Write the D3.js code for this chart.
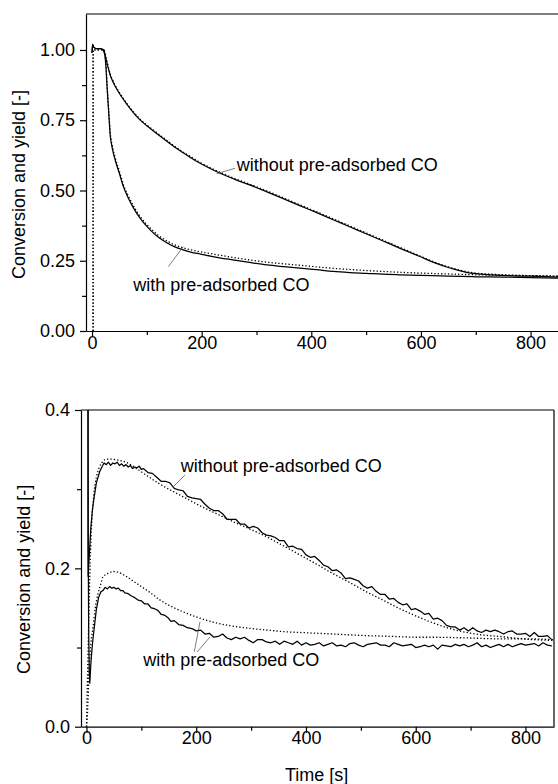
<!DOCTYPE html>
<html><head><meta charset="utf-8">
<script src="https://cdn.jsdelivr.net/npm/d3@7"></script>
<style>
body{margin:0;background:#fff}
svg{display:block}
text{font-family:'Liberation Sans',Arial,Helvetica,sans-serif;fill:#000}
</style>
</head><body>
<svg id="c" width="558" height="784"></svg>
<script>
// ---------------- data ----------------
const xTicks = [0, 200, 400, 600, 800];
const xMinor = [100, 300, 500, 700];
const topYTicks = [0, 0.25, 0.5, 0.75, 1.0];
const topYMinor = [0.125, 0.375, 0.625, 0.875];
const botYTicks = [0, 0.2, 0.4];
const botYMinor = [0.1, 0.3];
const yTitle = "Conversion and yield [-]";
const xTitle = "Time [s]";
const labelWithout = "without pre-adsorbed CO";
const labelWith = "with pre-adsorbed CO";

// top panel: measured (solid) and model (dotted) [time s, value]
const topWithoutMeas = [[0,0.99],[1,1.02],[3,1.01],[8,1.005],[15,1.005],[20,1.0],[24,0.98],[29,0.94],[33,0.912],[39,0.883],[50,0.845],[63,0.808],[75,0.778],[87,0.752],[100,0.730],[124,0.694],[140,0.670],[160,0.642],[180,0.617],[197,0.597],[220,0.574],[240,0.556],[264,0.537],[290,0.518],[318,0.496],[350,0.470],[379,0.446],[410,0.421],[440,0.396],[470,0.371],[501,0.345],[530,0.321],[561,0.295],[598,0.265],[622,0.245],[650,0.226],[670,0.215],[683,0.209],[700,0.204],[730,0.2],[760,0.197],[800,0.195],[850,0.192]];
const topWithoutModel = [[2,0],[2.01,1.0],[21,1.0],[24,0.985],[29,0.945],[33,0.915],[39,0.887],[50,0.848],[63,0.811],[75,0.781],[87,0.755],[100,0.733],[124,0.697],[140,0.673],[160,0.645],[180,0.620],[197,0.600],[220,0.577],[240,0.559],[264,0.540],[290,0.521],[318,0.499],[350,0.473],[379,0.449],[410,0.424],[440,0.399],[470,0.374],[501,0.348],[530,0.324],[561,0.298],[598,0.267],[622,0.247],[650,0.228],[670,0.217],[683,0.211],[700,0.206],[730,0.202],[760,0.199],[800,0.197],[850,0.195]];
const topWithMeas = [[0,0.99],[1,1.02],[3,1.01],[8,1.005],[15,1.005],[22,1.0],[25,0.95],[28,0.85],[31,0.76],[33,0.70],[37,0.65],[42,0.61],[50,0.56],[57,0.515],[65,0.478],[75,0.44],[90,0.395],[106,0.36],[120,0.335],[137,0.313],[150,0.3],[166,0.289],[180,0.281],[197,0.274],[220,0.265],[257,0.253],[290,0.243],[319,0.235],[350,0.229],[379,0.224],[410,0.218],[440,0.212],[470,0.208],[501,0.205],[530,0.202],[561,0.2],[600,0.198],[650,0.195],[700,0.193],[750,0.192],[800,0.19],[850,0.188]];
const topWithModel = [[2,0],[2.01,1.0],[22,1.0],[25,0.955],[28,0.86],[31,0.77],[33,0.71],[37,0.66],[42,0.618],[50,0.568],[57,0.522],[65,0.486],[75,0.447],[90,0.402],[106,0.367],[120,0.342],[137,0.32],[150,0.307],[166,0.296],[180,0.289],[197,0.282],[220,0.274],[257,0.262],[290,0.252],[319,0.245],[350,0.239],[379,0.234],[410,0.228],[440,0.223],[470,0.219],[501,0.215],[530,0.212],[561,0.209],[600,0.206],[650,0.203],[700,0.2],[750,0.198],[800,0.197],[850,0.195]];

// bottom panel
const botWithoutMeas = [[2.7,0.5],[3,0.19],[5,0.215],[8,0.252],[11,0.275],[14,0.29],[18,0.308],[24,0.322],[28,0.328],[32,0.333],[36,0.331],[40,0.334],[44,0.330],[48,0.333],[52,0.332],[56,0.334],[60,0.330],[64,0.332],[68,0.329],[72,0.331],[76,0.328],[80,0.330],[84,0.326],[88,0.328],[92,0.327],[96,0.329],[100,0.325],[104,0.326],[112,0.321],[120,0.320],[128,0.315],[136,0.310],[144,0.310],[152,0.308],[160,0.301],[168,0.299],[176,0.298],[184,0.291],[192,0.289],[200,0.288],[208,0.287],[216,0.281],[224,0.276],[232,0.273],[240,0.273],[248,0.269],[256,0.262],[264,0.262],[272,0.262],[280,0.256],[288,0.256],[296,0.251],[304,0.253],[312,0.251],[320,0.245],[328,0.242],[336,0.241],[344,0.239],[352,0.235],[360,0.235],[368,0.227],[376,0.228],[384,0.225],[392,0.224],[400,0.217],[408,0.214],[416,0.215],[424,0.210],[432,0.204],[440,0.202],[448,0.197],[456,0.198],[464,0.194],[472,0.187],[480,0.188],[488,0.186],[496,0.184],[504,0.178],[512,0.175],[520,0.177],[528,0.171],[536,0.167],[544,0.167],[552,0.161],[560,0.162],[568,0.157],[576,0.154],[584,0.155],[592,0.148],[600,0.149],[608,0.146],[616,0.142],[624,0.143],[632,0.136],[640,0.137],[648,0.134],[656,0.128],[664,0.126],[672,0.126],[680,0.122],[688,0.125],[696,0.121],[704,0.125],[712,0.121],[720,0.119],[728,0.122],[736,0.120],[744,0.122],[752,0.120],[760,0.117],[768,0.120],[776,0.121],[784,0.117],[792,0.117],[800,0.118],[808,0.114],[816,0.119],[824,0.114],[832,0.114],[840,0.115],[848,0.110]];
const botWithoutModel = [[0,0],[3,0.1],[6,0.19],[9,0.25],[13,0.29],[18,0.315],[23,0.327],[30,0.335],[36,0.338],[45,0.338],[55,0.337],[72,0.334],[87,0.328],[104,0.32],[130,0.308],[158,0.297],[180,0.289],[207,0.279],[240,0.268],[267,0.259],[300,0.249],[328,0.24],[360,0.228],[389,0.217],[420,0.205],[450,0.193],[480,0.182],[511,0.17],[540,0.16],[571,0.149],[600,0.14],[632,0.131],[662,0.124],[693,0.119],[720,0.116],[753,0.114],[780,0.112],[814,0.11],[850,0.109]];
const botWithMeas = [[2.7,0.5],[3,0.25],[4,0.12],[5,0.07],[6,0.055],[7,0.068],[8,0.08],[10,0.098],[12,0.112],[15,0.13],[18,0.148],[22,0.163],[26,0.170],[30,0.172],[34,0.176],[38,0.174],[42,0.177],[46,0.175],[50,0.176],[54,0.174],[58,0.175],[62,0.172],[66,0.172],[70,0.169],[76,0.168],[82,0.165],[88,0.163],[94,0.160],[100,0.159],[106,0.155],[112,0.155],[118,0.150],[124,0.149],[130,0.147],[136,0.142],[142,0.141],[148,0.138],[154,0.133],[160,0.134],[168,0.129],[176,0.128],[184,0.125],[192,0.124],[200,0.121],[208,0.122],[216,0.117],[224,0.118],[232,0.113],[240,0.114],[248,0.117],[256,0.112],[264,0.110],[272,0.113],[280,0.111],[288,0.113],[296,0.109],[304,0.106],[312,0.110],[320,0.110],[328,0.107],[336,0.106],[344,0.108],[352,0.104],[360,0.108],[368,0.106],[376,0.104],[384,0.108],[392,0.103],[400,0.106],[408,0.103],[416,0.104],[424,0.106],[432,0.102],[440,0.104],[448,0.106],[456,0.102],[464,0.103],[472,0.101],[480,0.105],[488,0.106],[496,0.103],[504,0.101],[512,0.104],[520,0.105],[528,0.106],[536,0.103],[544,0.103],[552,0.101],[560,0.106],[568,0.104],[576,0.102],[584,0.103],[592,0.104],[600,0.100],[608,0.101],[616,0.103],[624,0.101],[632,0.103],[640,0.098],[648,0.103],[656,0.102],[664,0.101],[672,0.104],[680,0.102],[688,0.104],[696,0.101],[704,0.103],[712,0.106],[720,0.101],[728,0.103],[736,0.100],[744,0.102],[752,0.104],[760,0.101],[768,0.104],[776,0.101],[784,0.103],[792,0.105],[800,0.103],[808,0.104],[816,0.105],[824,0.102],[832,0.106],[840,0.103],[848,0.102]];
const botWithModel = [[0,0],[2,0.02],[5,0.076],[8,0.105],[12,0.126],[16,0.15],[21,0.168],[26,0.18],[30,0.189],[40,0.194],[49,0.196],[58,0.195],[72,0.19],[87,0.183],[100,0.177],[115,0.17],[134,0.16],[146,0.155],[160,0.15],[180,0.144],[207,0.137],[237,0.131],[267,0.127],[300,0.124],[330,0.122],[360,0.12],[389,0.119],[420,0.118],[450,0.117],[480,0.116],[511,0.115],[560,0.114],[600,0.113],[632,0.113],[700,0.112],[750,0.111],[800,0.111],[850,0.11]];

// annotations (data units): label anchor and leader lines
const topNotes = [
  {text: labelWithout, at: [263.9, 0.569], leaders: [[[260.9, 0.579], [227.4, 0.560]]]},
  {text: labelWith, at: [75.3, 0.144], leaders: [[[139.1, 0.229], [166.5, 0.300]]]}
];
const botNotes = [
  {text: labelWithout, at: [171.7, 0.3217], leaders: [[[179.5, 0.3179], [158.2, 0.3031]]]},
  {text: labelWith, at: [103.5, 0.0767], leaders: [[[196.5, 0.0947], [206.9, 0.1326]], [[201.4, 0.0943], [225.1, 0.1133]]]}
];

// ---------------- drawing ----------------
const svg = d3.select("#c");
svg.append("rect").attr("width", 558).attr("height", 784).attr("fill", "#fff");

function panel(cfg) {
  const x = d3.scaleLinear().domain(cfg.xDomain).range([cfg.left, cfg.right]);
  const y = d3.scaleLinear().domain(cfg.yDomain).range([cfg.bottom, cfg.top]);
  const g = svg.append("g");
  const clipId = "clip" + cfg.id;
  svg.append("clipPath").attr("id", clipId).append("rect")
    .attr("x", cfg.left).attr("y", cfg.top)
    .attr("width", cfg.right - cfg.left).attr("height", cfg.bottom - cfg.top);

  // frame
  const frame = g.append("g").attr("stroke", "#000").attr("stroke-width", 1.2).attr("fill", "none");
  frame.append("line").attr("x1", cfg.left).attr("x2", cfg.right).attr("y1", cfg.top).attr("y2", cfg.top);
  if (cfg.rightBorder) frame.append("line").attr("x1", cfg.right).attr("x2", cfg.right).attr("y1", cfg.top).attr("y2", cfg.bottom);

  // axes
  const yAx = g.append("g").attr("transform", `translate(${cfg.left},0)`)
    .call(d3.axisLeft(y).tickValues(cfg.yTicks).tickSize(6).tickSizeOuter(0).tickPadding(5).tickFormat(cfg.yFmt));
  const yMin = g.append("g").attr("transform", `translate(${cfg.left},0)`)
    .call(d3.axisLeft(y).tickValues(cfg.yMinor).tickSize(4).tickSizeOuter(0).tickFormat(""));
  const xAx = g.append("g").attr("transform", `translate(0,${cfg.bottom})`)
    .call(d3.axisBottom(x).tickValues(xTicks).tickSize(6).tickSizeOuter(0).tickPadding(-1).tickFormat(d3.format("d")));
  const xMin = g.append("g").attr("transform", `translate(0,${cfg.bottom})`)
    .call(d3.axisBottom(x).tickValues(xMinor).tickSize(4).tickSizeOuter(0).tickFormat(""));
  [yAx, yMin, xAx, xMin].forEach(a => {
    a.selectAll("path").attr("stroke", "#000").attr("stroke-width", 1.2);
    a.selectAll("line").attr("stroke", "#000").attr("stroke-width", 1.2);
    a.selectAll("text").attr("font-size", 18).attr("font-family", "'Liberation Sans',Arial,sans-serif").attr("fill", "#000");
  });
  yMin.select(".domain").remove();
  xMin.select(".domain").remove();

  // y title
  g.append("text").attr("transform", `translate(${cfg.yTitleX},${(cfg.top + cfg.bottom) / 2 + cfg.yTitleDy}) rotate(-90)`)
    .attr("text-anchor", "middle").attr("font-size", 18).text(yTitle);

  // series
  const plot = g.append("g").attr("clip-path", `url(#${clipId})`);
  cfg.series.forEach(s => {
    const line = d3.line().x(d => x(d[0])).y(d => y(d[1])).curve(s.curve || d3.curveLinear);
    plot.append("path").datum(s.data).attr("d", line).attr("fill", "none")
      .attr("stroke", "#000").attr("stroke-width", s.dotted ? 1.3 : 1.25)
      .attr("stroke-dasharray", s.dotted ? "1.3,2.1" : null)
      .attr("stroke-linejoin", "round");
  });

  // annotations
  cfg.notes.forEach(n => {
    n.leaders.forEach(l => {
      g.append("line").attr("x1", x(l[0][0])).attr("y1", y(l[0][1]))
        .attr("x2", x(l[1][0])).attr("y2", y(l[1][1]))
        .attr("stroke", "#444").attr("stroke-width", 0.7);
    });
    g.append("text").attr("x", x(n.at[0])).attr("y", y(n.at[1])).attr("font-size", 18).text(n.text);
  });
  return {x, y};
}

panel({
  id: "top", left: 86, right: 558, top: 14, bottom: 331,
  xDomain: [-11, 850], yDomain: [0, 1.128],
  yTicks: topYTicks, yMinor: topYMinor, yFmt: d3.format(".2f"),
  rightBorder: false, yTitleX: 25, yTitleDy: 12,
  series: [
    {data: topWithoutModel, dotted: true, curve: d3.curveMonotoneX},
    {data: topWithModel, dotted: true, curve: d3.curveMonotoneX},
    {data: topWithoutMeas, curve: d3.curveMonotoneX},
    {data: topWithMeas, curve: d3.curveMonotoneX}
  ],
  notes: topNotes
});

panel({
  id: "bot", left: 81, right: 554, top: 410, bottom: 726.7,
  xDomain: [-10, 852], yDomain: [0, 0.4],
  yTicks: botYTicks, yMinor: botYMinor, yFmt: d3.format(".1f"),
  rightBorder: true, yTitleX: 30, yTitleDy: 11,
  series: [
    {data: botWithoutModel, dotted: true, curve: d3.curveMonotoneX},
    {data: botWithModel, dotted: true, curve: d3.curveMonotoneX},
    {data: botWithoutMeas},
    {data: botWithMeas}
  ],
  notes: botNotes
});

svg.append("text").attr("x", 316.7).attr("y", 781).attr("text-anchor", "middle").attr("font-size", 18).text(xTitle);
</script>
</body></html>
